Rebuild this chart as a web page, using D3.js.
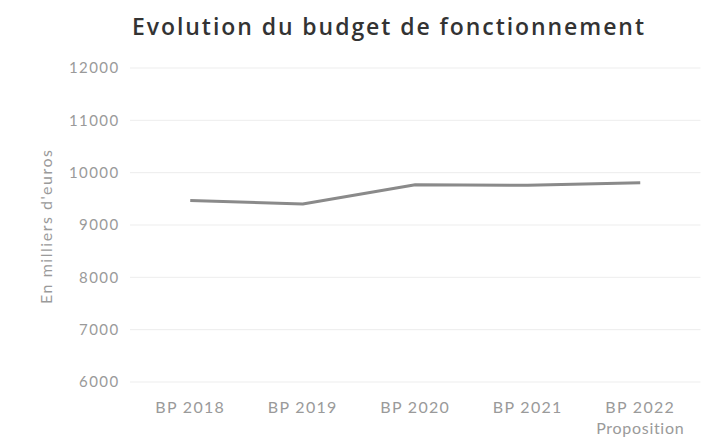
<!DOCTYPE html>
<html>
<head>
<meta charset="utf-8">
<script src="https://cdn.jsdelivr.net/npm/d3@7"></script>
<style>
  html, body { margin: 0; padding: 0; background: #fff; }
  svg { display: block; font-family: Lato, "Open Sans", sans-serif; }
</style>
</head>
<body>
<svg id="chart" width="707" height="441"></svg>
<script>
// Operating budget, in thousands of euros
const categories = ["BP 2018", "BP 2019", "BP 2020", "BP 2021", "BP 2022"];
const subLabels = ["", "", "", "", "Proposition"];
const budget = [9470, 9400, 9770, 9760, 9805];
const yTicks = [6000, 7000, 8000, 9000, 10000, 11000, 12000];

const svg = d3.select("#chart");
const plot = { left: 134, right: 696.5, top: 68, bottom: 382 };
const font = "Lato, 'Open Sans', sans-serif";

const x = d3.scaleBand().domain(categories).range([plot.left, plot.right]);
const y = d3.scaleLinear().domain([6000, 12000]).range([plot.bottom, plot.top]);

// Title
svg.append("text")
  .attr("x", 132).attr("y", 35)
  .attr("font-family", "'Open Sans', Lato, sans-serif")
  .attr("font-size", 23).attr("font-weight", 600)
  .attr("fill", "#333")
  .attr("textLength", 512).attr("lengthAdjust", "spacing")
  .text("Evolution du budget de fonctionnement");

// Horizontal gridlines
svg.append("g")
  .selectAll("line").data(yTicks).join("line")
  .attr("x1", plot.left - 4).attr("x2", plot.right + 4)
  .attr("y1", d => y(d)).attr("y2", d => y(d))
  .attr("stroke", "#ededed").attr("stroke-width", 1);

// Y axis labels
const yAxis = d3.axisLeft(y).tickValues(yTicks).tickSize(0).tickPadding(0).tickFormat(d3.format("d"));
const yg = svg.append("g").attr("transform", "translate(119.5,0)").call(yAxis);
yg.select(".domain").remove();
yg.selectAll("text")
  .attr("font-size", 15).attr("fill", "#9a9a9a").attr("font-family", font)
  .attr("letter-spacing", 1.4);

// X axis labels
const xAxis = d3.axisBottom(x).tickSize(0).tickPadding(0);
const xg = svg.append("g").attr("transform", `translate(0,${plot.bottom + 20})`).call(xAxis);
xg.select(".domain").remove();
xg.selectAll("text")
  .attr("font-size", 16).attr("fill", "#9a9a9a").attr("font-family", font)
  .attr("letter-spacing", 1.3);
xg.selectAll(".tick").append("text")
  .attr("y", 21).attr("dy", "0.71em")
  .attr("text-anchor", "middle")
  .attr("font-size", 16).attr("fill", "#9a9a9a")
  .attr("font-family", font)
  .attr("letter-spacing", 0.7)
  .text((d, i) => subLabels[i]);

// Y axis title
svg.append("text")
  .attr("transform", `translate(52,${(plot.top + plot.bottom) / 2 + 2}) rotate(-90)`)
  .attr("text-anchor", "middle")
  .attr("font-size", 16).attr("fill", "#9a9a9a")
  .attr("textLength", 154).attr("lengthAdjust", "spacing")
  .text("En milliers d'euros");

// Budget line
const line = d3.line()
  .x((d, i) => x(categories[i]) + x.bandwidth() / 2)
  .y(d => y(d));
svg.append("path")
  .datum(budget)
  .attr("d", line)
  .attr("fill", "none")
  .attr("stroke", "#8a8a8a")
  .attr("stroke-width", 3)
  .attr("stroke-linejoin", "round");
</script>
</body>
</html>
